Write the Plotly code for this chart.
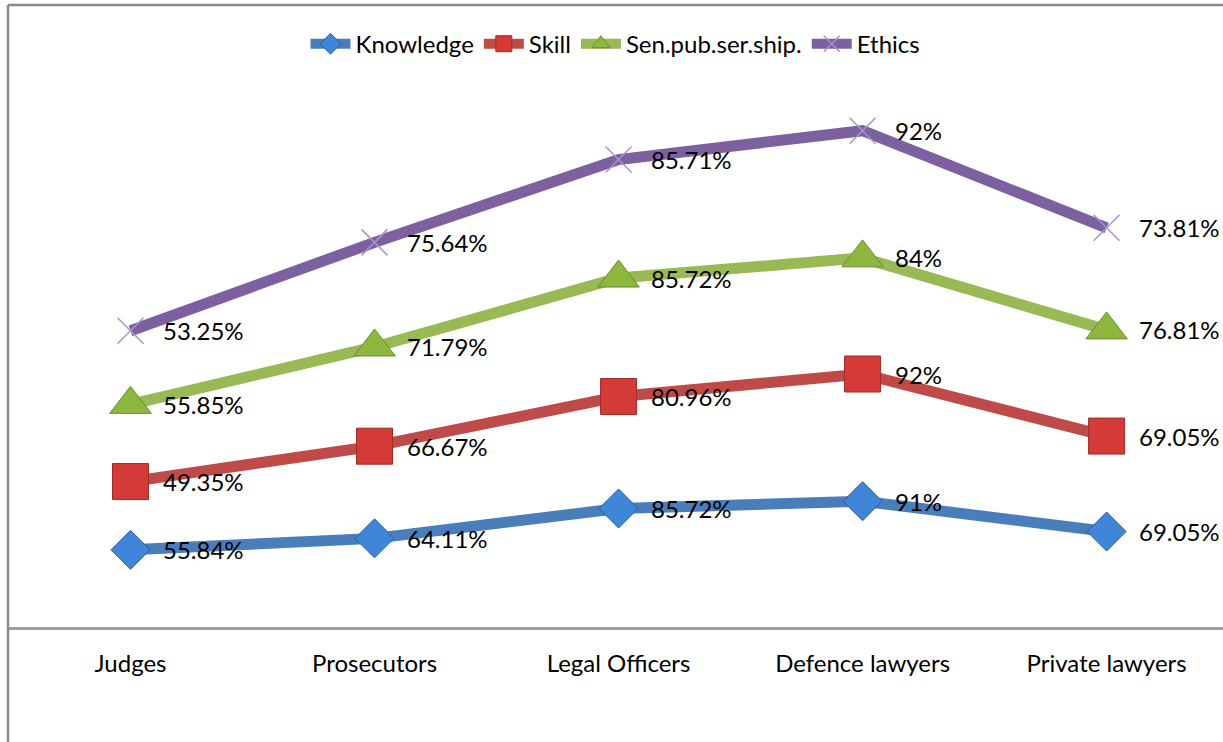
import numpy as np
import plotly.graph_objects as go

categories = ["Judges", "Prosecutors", "Legal Officers", "Defence lawyers", "Private lawyers"]
series_names = ["Knowledge", "Skill", "Sen.pub.ser.ship.", "Ethics"]
knowledge = [55.84, 64.11, 85.72, 91, 69.05]
skill = [49.35, 66.67, 80.96, 92, 69.05]
sen_pub = [55.85, 71.79, 85.72, 84, 76.81]
ethics = [53.25, 75.64, 85.71, 92, 73.81]

series_values = [knowledge, skill, sen_pub, ethics]

line_colors = ["#4A7EBB", "#BE4B48", "#98B954", "#7D60A0"]
marker_colors = ["#3F86D8", "#D43A37", "#8DB73F", "#A893CC"]
marker_edges = ["#2A5C99", "#9E2B28", "#6A8E2C", "#A893CC"]
marker_symbols = ["diamond", "square", "triangle-up", "x-thin-open"]
marker_sizes = [30, 36, 36, 26]

FONT = "Lato"
FS = 24
fig = go.Figure()

cum = np.cumsum(np.array(series_values, dtype=float), axis=0)
idx = list(range(len(categories)))

annotations = []
for i, name in enumerate(series_names):
    is_x = marker_symbols[i] == "x-thin-open"
    fig.add_trace(go.Scatter(
        x=idx, y=cum[i], name=name, mode="lines+markers",
        line=dict(color=line_colors[i], width=11),
        marker=dict(symbol=marker_symbols[i], size=marker_sizes[i],
                    color=marker_colors[i],
                    line=dict(color=marker_edges[i], width=1.5 if is_x else 1)),
        hoverinfo="skip",
    ))
    for j, v in enumerate(series_values[i]):
        annotations.append(dict(
            x=idx[j], y=cum[i][j], xref="x", yref="y",
            text=f"{v:g}%", showarrow=False, xanchor="left", yanchor="middle",
            xshift=30, font=dict(family=FONT, size=FS, color="#000000"),
        ))

frame = dict(color="#8C8C8C", width=2.5)
shapes = [
    dict(type="line", xref="paper", yref="paper", x0=0, x1=0, y0=-0.21, y1=1.1248, line=frame),
    dict(type="line", xref="paper", yref="paper", x0=0, x1=1.01, y0=1.1248, y1=1.1248, line=frame),
]

fig.update_layout(
    width=1223, height=742,
    margin=dict(l=8, r=0, t=74, b=115),
    paper_bgcolor="white", plot_bgcolor="white",
    font=dict(family=FONT, size=FS, color="#000000"),
    showlegend=True,
    legend=dict(orientation="h", x=0.5, xanchor="center", y=1.054, yanchor="middle",
                font=dict(family=FONT, size=FS), itemwidth=40, bgcolor="rgba(0,0,0,0)"),
    xaxis=dict(tickmode="array", tickvals=idx, ticktext=categories,
               range=[-0.502, 4.477], showgrid=False, zeroline=False,
               showline=True, linecolor="#A0A0A0", linewidth=2.5,
               ticks="outside", ticklen=13, tickcolor="rgba(0,0,0,0)",
               tickfont=dict(family=FONT, size=FS, color="#000000")),
    yaxis=dict(range=[0, 400], showgrid=False, zeroline=False, showline=False,
               showticklabels=False, ticks=""),
    annotations=annotations,
    shapes=shapes,
)

fig.write_html("out.html", config={"displayModeBar": False},
               post_script="document.body.style.margin='0px';")
